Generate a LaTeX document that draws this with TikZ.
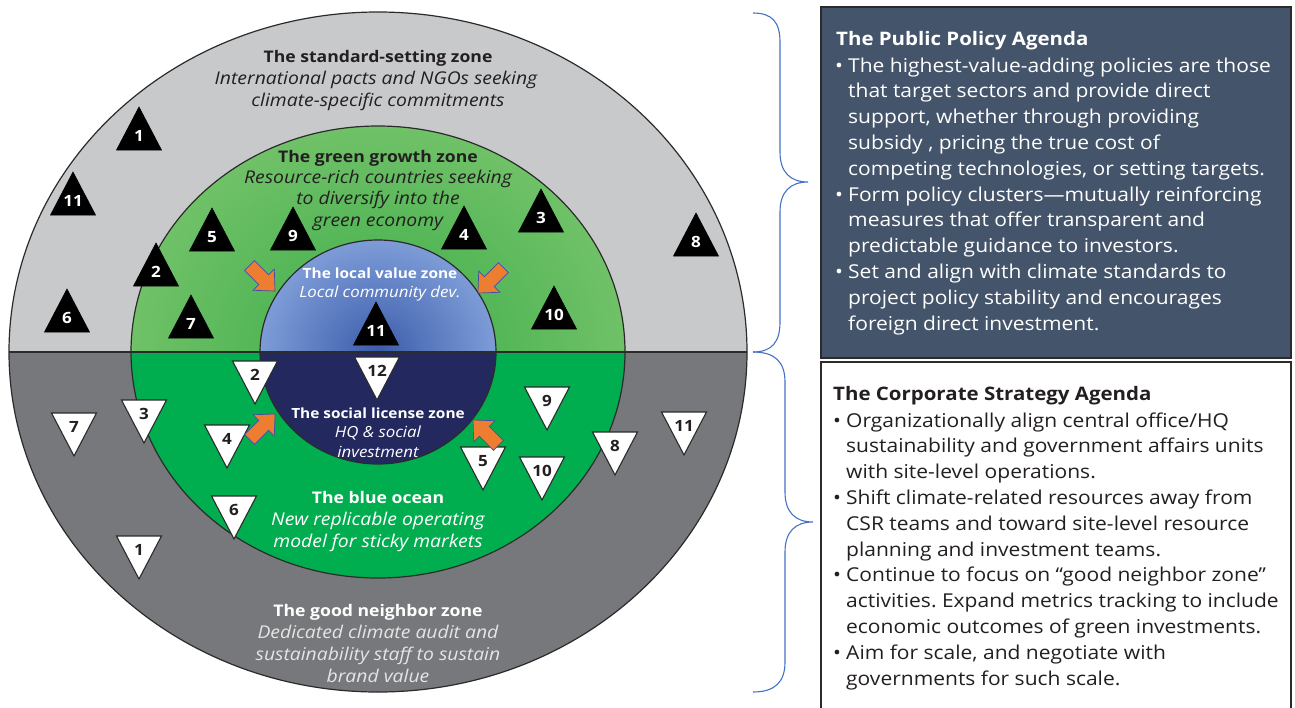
\documentclass[tikz,border=0pt]{standalone}
\usepackage{fontspec}
\setmainfont{Open Sans}[FakeStretch=1.1]
\frenchspacing
\definecolor{lgrey}{HTML}{C8C9CB}
\definecolor{dgrey}{HTML}{77787B}
\definecolor{gin}{HTML}{3AAD48}
\definecolor{gout}{HTML}{70C167}
\definecolor{glow}{HTML}{00AE4F}
\definecolor{bin}{HTML}{3C5CAB}
\definecolor{bout}{HTML}{7D9CD7}
\definecolor{navy}{HTML}{23285F}
\definecolor{boxblue}{HTML}{44546A}
\definecolor{bracec}{HTML}{4472C4}
\definecolor{orangea}{HTML}{ED7D31}
\definecolor{arrowline}{HTML}{3F51A3}
\definecolor{txtdark}{HTML}{231F20}
\definecolor{linec}{HTML}{2B2B2B}
\pgfdeclareradialshading{greenrad}{\pgfpointorigin}{color(0bp)=(gin); color(25bp)=(gout); color(50bp)=(gout)}
\pgfdeclareradialshading{bluerad}{\pgfpointorigin}{color(0bp)=(bin); color(25bp)=(bout); color(50bp)=(bout)}
\tikzset{
  ztitle/.style={font=\bfseries\fontsize{16}{20}\selectfont, anchor=base, inner sep=0pt},
  zsub/.style={font=\itshape\fontsize{17.6}{20}\selectfont, anchor=base, inner sep=0pt},
  stitle/.style={font=\bfseries\fontsize{14}{17}\selectfont, anchor=base, inner sep=0pt, text=white},
  ssub/.style={font=\itshape\fontsize{15.3}{17}\selectfont, anchor=base, inner sep=0pt, text=white},
  uptri/.style={fill=black, draw=black, line width=0.6pt},
  downtri/.style={fill=white, draw=linec, line width=1.1pt},
  uplab/.style={font=\bfseries\fontsize{15.5}{18}\selectfont, text=white, inner sep=0pt},
  downlab/.style={font=\bfseries\fontsize{15.5}{18}\selectfont, text=txtdark, inner sep=0pt},
  blockarrow/.style={fill=orangea, draw=arrowline, line width=0.7pt, line join=miter},
  bracestyle/.style={draw=bracec, line width=1.1pt},
  boxtxt/.style={font=\fontsize{19.1}{22}\selectfont, anchor=base west, inner sep=0pt},
  boxtitle/.style={font=\bfseries\fontsize{18.6}{22}\selectfont, anchor=base west, inner sep=0pt},
  ring/.style={draw=linec, line width=1.2pt}
}
\newcommand{\UpTri}[4]{%
  \fill[uptri] (#2,#3) -- ++(22.5,43) -- ++(-45,0) -- cycle;
  \node[uplab] (#1) at (#2,#3+29) {#4};}
\newcommand{\DownTri}[4]{%
  \filldraw[downtri] (#2-22.5,#3) -- ++(45,0) -- ++(-22.5,43) -- cycle;
  \node[downlab] (#1) at (#2,#3+14) {#4};}
\newcommand{\BlockArrow}[4]{%
  \filldraw[blockarrow, shift={(#2,#3)}, rotate=#4] (0,0) -- (-16,15) -- (-16,7) -- (-36,7) -- (-36,-7) -- (-16,-7) -- (-16,-15) -- cycle;
  \coordinate (#1) at (#2,#3);}
\begin{document}
\begin{tikzpicture}[x=1pt,y=-1pt]
\useasboundingbox (0,0) rectangle (1295,707);
\fill[white] (0,0) rectangle (1295,707);
% outer ellipse
\fill[lgrey] (378,352) ellipse [x radius=369, y radius=340];
\fill[dgrey] (9,352) arc [start angle=180, end angle=0, x radius=369, y radius=340] -- cycle;
% green ellipse
\shade[shading=greenrad] (378,352) ellipse [x radius=247, y radius=226];
\fill[glow] (131,352) arc [start angle=180, end angle=0, x radius=247, y radius=226] -- cycle;
% blue circle
\shade[shading=bluerad] (378,352) ellipse [x radius=118, y radius=112];
\fill[navy] (260,352) arc [start angle=180, end angle=0, x radius=118, y radius=112] -- cycle;
% outlines
\draw[ring] (378,352) ellipse [x radius=369, y radius=340];
\draw[ring] (378,352) ellipse [x radius=247, y radius=226];
\draw[ring] (378,352) ellipse [x radius=118, y radius=112];
\coordinate (hl) at (9,352);
\coordinate (hr) at (747,352);
\draw[linec, line width=1.8pt] (hl) -- (hr);

% zone texts
\node[ztitle, text=txtdark] (ss0) at (378,62) {The standard-setting zone};
\node[zsub, text=txtdark] (ss1) at (376,84) {International pacts and NGOs seeking};
\node[zsub, text=txtdark] (ss2) at (378,106) {climate-specific commitments};
\node[ztitle, text=txtdark] (gg0) at (378,162) {The green growth zone};
\node[zsub, text=txtdark] (gg1) at (378,183) {Resource-rich countries seeking};
\node[zsub, text=txtdark] (gg2) at (378,204) {to diversify into the};
\node[zsub, text=txtdark] (gg3) at (378,226) {green economy};
\node[stitle] (lv0) at (380,278) {The local value zone};
\node[ssub] (lv1) at (380,297) {Local community dev.};
\node[stitle] (sl0) at (378,418) {The social license zone};
\node[ssub] (sl1) at (378,437) {HQ \& social};
\node[ssub] (sl2) at (378,457) {investment};
\node[ztitle, text=white] (bo0) at (378,503) {The blue ocean};
\node[zsub, text=white] (bo1) at (378,525) {New replicable operating};
\node[zsub, text=white] (bo2) at (378,547) {model for sticky markets};
\node[ztitle, text=white] (gn0) at (378,616) {The good neighbor zone};
\node[zsub, text=white!90!black] (gn1) at (378,638) {Dedicated climate audit and};
\node[zsub, text=white!90!black] (gn2) at (378,660) {sustainability staff to sustain};
\node[zsub, text=white!90!black] (gn3) at (378,682) {brand value};

% up triangles
\UpTri{u1}{139}{107}{1}
\UpTri{u11a}{73}{172}{11}
\UpTri{u6}{67}{289}{6}
\UpTri{u2}{156}{243}{2}
\UpTri{u5}{212}{208}{5}
\UpTri{u9}{293}{207}{9}
\UpTri{u7}{191}{295}{7}
\UpTri{u11b}{376}{302}{11}
\UpTri{u3}{541}{189}{3}
\UpTri{u4}{464}{206}{4}
\UpTri{u8}{696}{213}{8}
\UpTri{u10}{554}{286}{10}

% down triangles
\DownTri{d2}{255}{361}{2}
\DownTri{d12}{377}{357}{12}
\DownTri{d3}{144}{400}{3}
\DownTri{d7}{74}{413}{7}
\DownTri{d4}{227}{425}{4}
\DownTri{d6}{234}{496}{6}
\DownTri{d1}{139}{536}{1}
\DownTri{d9}{547}{387}{9}
\DownTri{d5}{483}{447}{5}
\DownTri{d10}{542}{457}{10}
\DownTri{d8}{615}{432}{8}
\DownTri{d11}{684}{412}{11}

% orange arrows
\BlockArrow{a1}{275}{291}{-45}
\BlockArrow{a2}{478}{293}{-135}
\BlockArrow{a3}{275}{414}{45}
\BlockArrow{a4}{473}{420}{135}

% braces
\coordinate (bt) at (753,13);
\coordinate (bm) at (753,352);
\coordinate (bb) at (753,692);
\coordinate (tip1) at (808,182);
\coordinate (tip2) at (813,522);
\draw[bracestyle] (bt) .. controls (772,13) and (780,22) .. (780,42) -- (780,152)
  .. controls (780,172) and (790,182) .. (tip1)
  .. controls (790,182) and (780,192) .. (780,212) -- (780,322)
  .. controls (780,342) and (772,352) .. (bm);
\draw[bracestyle] (bm) .. controls (775,352) and (785,362) .. (785,382) -- (785,492)
  .. controls (785,512) and (795,522) .. (tip2)
  .. controls (795,522) and (785,532) .. (785,552) -- (785,662)
  .. controls (785,682) and (775,692) .. (bb);

% boxes
\node[draw=linec, line width=1.8pt, fill=boxblue, minimum width=470pt, minimum height=351pt, anchor=north west, inner sep=0pt] (ppbox) at (820,6) {};
\node[draw=linec, line width=1.5pt, fill=white, minimum width=470pt, minimum height=360pt, anchor=north west, inner sep=0pt] (csbox) at (820,361) {};

% public policy text
\node[boxtitle, text=white] (pptitle) at (836,45) {The Public Policy Agenda};
\foreach \t [count=\i from 0] in {
  {The highest-value-adding policies are those},
  {that target sectors and provide direct},
  {support, whether through providing},
  {subsidy , pricing the true cost of},
  {competing technologies, or setting targets.},
  {Form policy clusters\textemdash mutually reinforcing},
  {measures that offer transparent and},
  {predictable guidance to investors.},
  {Set and align with climate standards to},
  {project policy stability and encourages},
  {foreign direct investment.}}
  {\node[boxtxt, text=white] (pp\i) at (848,72+25.8*\i) {\t};}
\foreach \i in {0,5,8}
  {\node[boxtxt, text=white] (ppb\i) at (835,72+25.8*\i) {\textbullet};}

% corporate strategy text
\node[boxtitle, text=txtdark] (cstitle) at (833,400) {The Corporate Strategy Agenda};
\foreach \t [count=\i from 0] in {
  {Organizationally align central office/HQ},
  {sustainability and government affairs units},
  {with site-level operations.},
  {Shift climate-related resources away from},
  {CSR teams and toward site-level resource},
  {planning and investment teams.},
  {Continue to focus on \textquotedblleft good neighbor zone\textquotedblright},
  {activities. Expand metrics tracking to include},
  {economic outcomes of green investments.},
  {Aim for scale, and negotiate with},
  {governments for such scale.}}
  {\node[boxtxt, text=txtdark] (cs\i) at (846,427+25.8*\i) {\t};}
\foreach \i in {0,3,6,9}
  {\node[boxtxt, text=txtdark] (csb\i) at (833,427+25.8*\i) {\textbullet};}
\end{tikzpicture}
\end{document}
